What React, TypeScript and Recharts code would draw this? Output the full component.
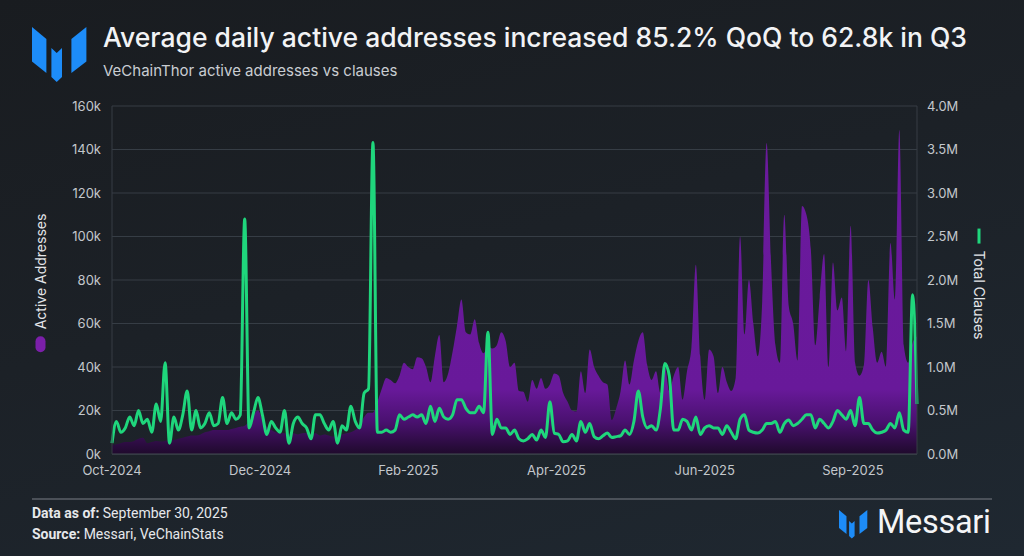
import React from 'react';
import { ComposedChart, Area, Line, XAxis, YAxis, CartesianGrid } from 'recharts';

// daily samples, every 2nd day from Oct 1 2024 to Sep 30 2025
const DAY_STEP = 2;

// active addresses, thousands
const ACTIVE_K = [
  4, 4.5, 5, 5.5, 5.5, 6, 7, 7.5, 5, 5.5,
  6, 5.7, 6, 6.5, 6.4, 7, 7.5, 8, 8.5, 8.5,
  9, 10, 10.5, 11, 11, 11, 11, 11.5, 12, 12.5,
  13, 15, 18, 20, 16, 12.5, 11, 10, 9.5, 9.5,
  9, 9.5, 9, 9.5, 9.6, 9, 9.5, 8.5, 9, 8.5,
  8, 8.5, 9, 9.5, 10, 11, 13, 17, 19, 19,
  24, 30, 35, 34, 32.5, 36, 42, 40, 39, 44.5,
  44, 40, 33, 45, 54.7, 33, 37, 47, 59, 71,
  56, 55, 62, 51, 46.3, 49.3, 48.5, 50, 56, 52,
  40, 42, 29, 28.6, 24, 34, 30, 35, 30, 32,
  37, 36, 28, 24, 20, 19.5, 38, 28, 48, 40,
  36, 33, 32, 15.6, 21, 29, 43, 32, 43, 52,
  56, 41, 34, 38, 28, 40, 29, 36, 40, 25,
  38, 49, 87, 45, 25, 48, 45, 28, 40, 33,
  29, 35, 100, 55, 80, 60, 45, 70, 143, 88,
  50, 42, 110, 68, 60, 43, 114, 110, 94, 50,
  72, 92, 40, 88, 66, 72, 47, 105, 42, 36,
  41, 80, 58, 42, 47, 40, 97, 71, 149, 50,
  42, 51, 54,
];

// total clauses, thousands
const CLAUSES_K = [
  125, 375, 250, 300, 425, 325, 500, 350, 400, 250,
  575, 375, 1050, 125, 425, 275, 450, 725, 275, 500,
  300, 350, 475, 325, 350, 650, 350, 475, 400, 450,
  2700, 300, 475, 650, 450, 225, 375, 300, 250, 500,
  125, 350, 425, 350, 300, 175, 450, 450, 350, 275,
  375, 125, 325, 275, 550, 375, 300, 700, 750, 3580,
  250, 250, 275, 250, 275, 450, 400, 425, 450, 425,
  450, 350, 550, 375, 525, 425, 400, 450, 625, 625,
  525, 475, 475, 550, 475, 1400, 225, 400, 300, 300,
  225, 275, 175, 150, 175, 225, 160, 275, 190, 600,
  240, 225, 140, 150, 225, 150, 375, 250, 350, 200,
  175, 210, 240, 190, 200, 210, 275, 225, 375, 725,
  425, 300, 325, 275, 525, 1040, 900, 275, 275, 400,
  375, 275, 425, 225, 300, 325, 300, 300, 225, 325,
  250, 175, 400, 450, 275, 250, 240, 275, 350, 350,
  375, 250, 350, 390, 325, 350, 400, 450, 450, 300,
  400, 350, 300, 375, 500, 450, 400, 500, 325, 650,
  350, 350, 275, 240, 250, 275, 350, 300, 475, 275,
  250, 1830, 575,
];

const TICK_DAYS = [0, 67, 134, 201, 268, 335];
const TICK_LABELS = ['Oct-2024', 'Dec-2024', 'Feb-2025', 'Apr-2025', 'Jun-2025', 'Sep-2025'];
const LEFT_TICKS = [0, 20, 40, 60, 80, 100, 120, 140, 160];
const RIGHT_TICKS = [0, 500, 1000, 1500, 2000, 2500, 3000, 3500, 4000];

const data = ACTIVE_K.map((a, i) => ({
  day: i * DAY_STEP,
  active: a,
  clauses: CLAUSES_K[i],
}));

const FONT = 'Inter, "Noto Sans", sans-serif';
const tickStyle = { fill: '#c3c7cc', fontSize: 13, fontFamily: FONT };

function Logo({ x, y, s }: { x: number; y: number; s: number }) {
  return (
    <g transform={`translate(${x},${y}) scale(${s})`} fill="#1d8cf8">
      <polygon points="0,0 14.4,12 14.4,46 0,34.4" />
      <polygon points="19.4,21 24.7,26 30,21 30,50 24.7,55 19.4,50" />
      <polygon points="39.4,12 54.4,0 54.4,34.4 39.4,46" />
    </g>
  );
}

export default function App() {
  return (
    <div
      style={{
        position: 'absolute',
        left: 0,
        top: 0,
        width: 1024,
        height: 556,
        overflow: 'hidden',
        background: 'linear-gradient(165deg, #191c20 0%, #1c2127 45%, #1f2831 100%)',
        fontFamily: FONT,
      }}
    >
      <svg width={1024} height={556} style={{ position: 'absolute', left: 0, top: 0 }}>
        <Logo x={32} y={27} s={1} />
        <Logo x={839} y={510} s={0.52} />
        <line x1={32} y1={499} x2={992} y2={499} stroke="#5b6168" strokeWidth={1.5} />
      </svg>

      <div style={{ position: 'absolute', left: 103, top: 21, color: '#f2f3f5', fontSize: 26.5, fontWeight: 500, whiteSpace: 'nowrap' }}>
        Average daily active addresses increased 85.2% QoQ to 62.8k in Q3
      </div>
      <div style={{ position: 'absolute', left: 103, top: 61, color: '#c9cdd2', fontSize: 15, whiteSpace: 'nowrap' }}>
        VeChainThor active addresses vs clauses
      </div>

      <div style={{ position: 'absolute', left: 0, top: 0 }}>
        <ComposedChart width={1024} height={556} data={data} margin={{ top: 106, right: 0, bottom: 72, left: 0 }}>
          <defs>
            <linearGradient id="purpleFill" x1="0" y1="0" x2="0" y2="1">
              <stop offset="0%" stopColor="#6b1a9d" />
              <stop offset="80%" stopColor="#68199a" />
              <stop offset="90%" stopColor="#4a1170" />
              <stop offset="100%" stopColor="#1f0a2c" />
            </linearGradient>
          </defs>
          <CartesianGrid yAxisId="left" vertical={false} stroke="#363d45" />
          <XAxis
            dataKey="day"
            type="number"
            domain={[0, 364]}
            ticks={TICK_DAYS}
            tickFormatter={(v) => TICK_LABELS[TICK_DAYS.indexOf(v)] ?? ''}
            height={30}
            tickSize={0}
            tickMargin={12}
            axisLine={{ stroke: '#434a53' }}
            tick={tickStyle}
          />
          <YAxis
            yAxisId="left"
            width={112}
            domain={[0, 160]}
            ticks={LEFT_TICKS}
            tickFormatter={(v) => `${v}k`}
            tickSize={0}
            tickMargin={11}
            axisLine={{ stroke: '#363d45' }}
            tick={tickStyle}
          />
          <YAxis
            yAxisId="right"
            orientation="right"
            width={107}
            domain={[0, 4000]}
            ticks={RIGHT_TICKS}
            tickFormatter={(v) => `${(v / 1000).toFixed(1)}M`}
            tickSize={0}
            tickMargin={10}
            axisLine={{ stroke: '#363d45' }}
            tick={tickStyle}
          />
          <Area
            yAxisId="left"
            dataKey="active"
            type="monotone"
            fill="url(#purpleFill)"
            fillOpacity={1}
            stroke="none"
            isAnimationActive={false}
          />
          <Line
            yAxisId="right"
            dataKey="clauses"
            type="monotone"
            stroke="#1fd67c"
            strokeWidth={3}
            dot={false}
            isAnimationActive={false}
          />
        </ComposedChart>
      </div>

      {/* left legend, rotated */}
      <div
        style={{
          position: 'absolute',
          left: 40,
          top: 283,
          transform: 'translate(-50%, -50%) rotate(-90deg)',
          display: 'flex',
          alignItems: 'center',
          gap: 7,
          whiteSpace: 'nowrap',
          color: '#e3e5e8',
          fontSize: 14,
        }}
      >
        <span style={{ width: 16, height: 10, borderRadius: 5, background: '#7b1fa9', display: 'inline-block' }} />
        <span>Active Addresses</span>
      </div>

      {/* right legend, rotated */}
      <div
        style={{
          position: 'absolute',
          left: 979,
          top: 284,
          transform: 'translate(-50%, -50%) rotate(90deg)',
          display: 'flex',
          alignItems: 'center',
          gap: 7,
          whiteSpace: 'nowrap',
          color: '#e3e5e8',
          fontSize: 14,
        }}
      >
        <span style={{ width: 15, height: 3, background: '#1fd67c', display: 'inline-block' }} />
        <span>Total Clauses</span>
      </div>

      <div style={{ position: 'absolute', left: 32, top: 505, color: '#e6e8eb', fontSize: 14, fontFamily: 'Roboto, sans-serif' }}>
        <b style={{ fontWeight: 700 }}>Data as of:</b> September 30, 2025
      </div>
      <div style={{ position: 'absolute', left: 32, top: 526, color: '#e6e8eb', fontSize: 14, fontFamily: 'Roboto, sans-serif' }}>
        <b style={{ fontWeight: 700 }}>Source:</b> Messari, VeChainStats
      </div>
      <div style={{ position: 'absolute', left: 877, top: 503, color: '#f4f5f7', fontSize: 32.5, fontFamily: 'Roboto, sans-serif', letterSpacing: -0.3 }}>
        Messari
      </div>
    </div>
  );
}
